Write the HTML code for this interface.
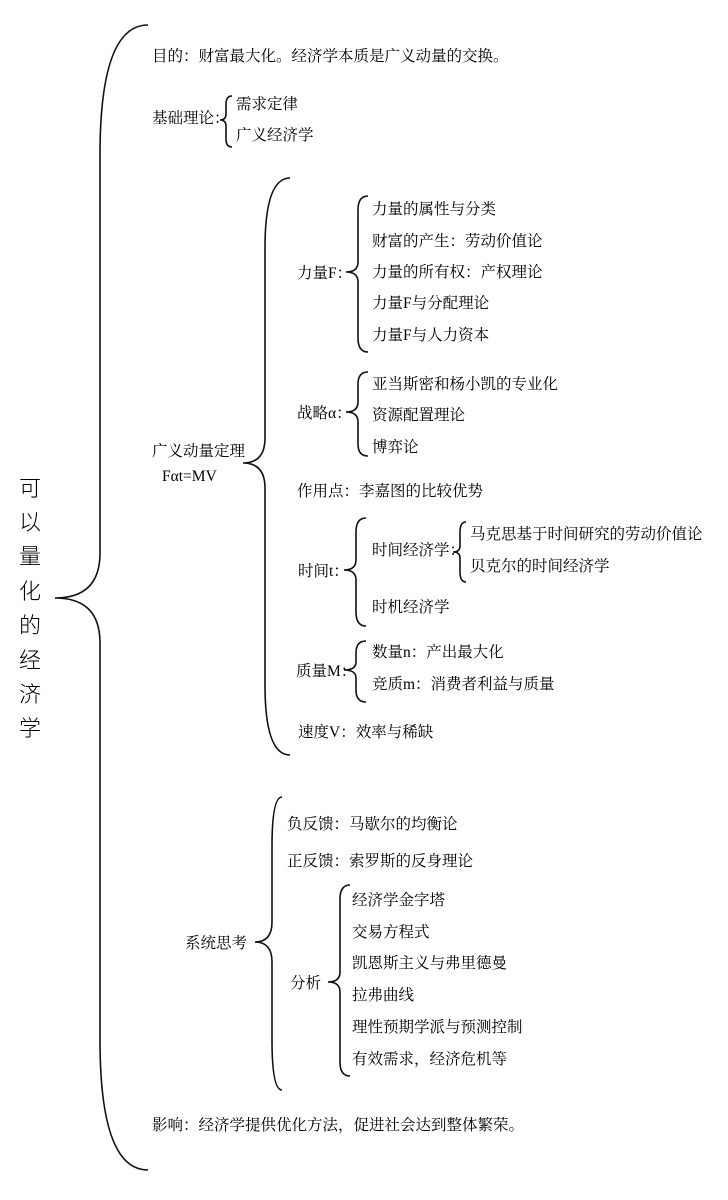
<!DOCTYPE html>
<html><head><meta charset="utf-8"><style>
html,body{margin:0;padding:0;background:#fff;}
svg{display:block}
text{font-family:"Liberation Serif","Noto Serif CJK SC",serif;font-size:15.5px;fill:#000;}
.t{font-family:"Liberation Sans","Noto Sans CJK SC",sans-serif;font-size:22px;font-weight:300;}
path{fill:none;stroke:#111;stroke-width:1.6;}
</style></head><body>
<svg id="s" width="728" height="1200" viewBox="0 0 728 1200">
<g id="b"></g>
<text class="t" x="19" y="496">可</text>
<text class="t" x="19" y="530">以</text>
<text class="t" x="19" y="564">量</text>
<text class="t" x="19" y="599">化</text>
<text class="t" x="19" y="633">的</text>
<text class="t" x="19" y="668">经</text>
<text class="t" x="19" y="702">济</text>
<text class="t" x="19" y="736">学</text>

<text x="152" y="61">目的：财富最大化。经济学本质是广义动量的交换。</text>
<text x="152" y="123">基础理论：</text>
<text x="236" y="109">需求定律</text>
<text x="236" y="140">广义经济学</text>

<text x="152" y="456">广义动量定理</text>
<text x="162" y="481">Fαt=MV</text>

<text x="297" y="278">力量F：</text>
<text x="372" y="214">力量的属性与分类</text>
<text x="372" y="246">财富的产生：劳动价值论</text>
<text x="372" y="277">力量的所有权：产权理论</text>
<text x="372" y="308">力量F与分配理论</text>
<text x="372" y="340">力量F与人力资本</text>

<text x="297" y="418">战略α：</text>
<text x="372" y="389">亚当斯密和杨小凯的专业化</text>
<text x="372" y="420">资源配置理论</text>
<text x="372" y="452">博弈论</text>

<text x="297" y="496">作用点：李嘉图的比较优势</text>

<text x="298" y="576">时间t：</text>
<text x="372" y="555">时间经济学：</text>
<text x="470" y="539">马克思基于时间研究的劳动价值论</text>
<text x="470" y="571">贝克尔的时间经济学</text>
<text x="372" y="612">时机经济学</text>

<text x="296" y="676">质量M：</text>
<text x="372" y="657">数量n：产出最大化</text>
<text x="372" y="689">竞质m：消费者利益与质量</text>

<text x="298" y="737">速度V：效率与稀缺</text>

<text x="287" y="829">负反馈：马歇尔的均衡论</text>
<text x="287" y="866">正反馈：索罗斯的反身理论</text>
<text x="185" y="948">系统思考</text>
<text x="290" y="988">分析</text>
<text x="352" y="905">经济学金字塔</text>
<text x="352" y="937">交易方程式</text>
<text x="352" y="968">凯恩斯主义与弗里德曼</text>
<text x="352" y="1000">拉弗曲线</text>
<text x="352" y="1032">理性预期学派与预测控制</text>
<text x="352" y="1064">有效需求，经济危机等</text>

<text x="152" y="1130">影响：经济学提供优化方法，促进社会达到整体繁荣。</text>
</svg>
<script>
function brace(xt,y1,xv,xp,ym,y2,r1,r2){
 var d="M"+xt+" "+y1+" Q"+xv+" "+y1+" "+xv+" "+(y1+r1)+" L"+xv+" "+(ym-r2)+
 " Q"+xv+" "+ym+" "+xp+" "+ym+" Q"+xv+" "+ym+" "+xv+" "+(ym+r2)+" L"+xv+" "+(y2-r1)+
 " Q"+xv+" "+y2+" "+xt+" "+y2;
 var p=document.createElementNS("http://www.w3.org/2000/svg","path");
 p.setAttribute("d",d);document.getElementById("b").appendChild(p);
}
brace(148,25,100,55,598,1170,130,45);
brace(232,96,226,220,120,147,8,6);
brace(290,178,265,243,463,755,70,25);
brace(368,196,358,346,272,352,14,10);
brace(368,372,358,346,412,456,12,10);
brace(366,518,356,344,570,626,14,10);
brace(466,522,460,453,552,582,10,6);
brace(366,641,356,344,670,702,12,8);
brace(282,797,272,255,942,1090,50,20);
brace(350,885,340,328,982,1076,14,10);
</script>
</body></html>
